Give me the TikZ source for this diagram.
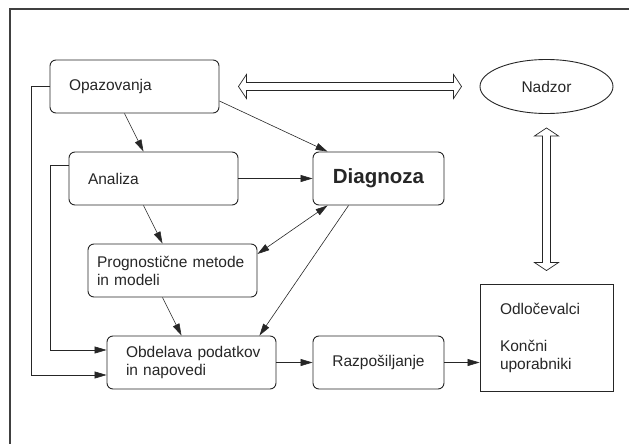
\documentclass[tikz,border=0pt]{standalone}
\usepackage{fontspec}
\setmainfont{Liberation Sans}
\usepackage{tikz}
\usetikzlibrary{arrows.meta,calc,positioning,shapes.geometric}
\tikzstyle{box}=[draw, rounded corners=6pt, line width=0.9pt, minimum width=169pt, minimum height=53pt, text width=131pt, inner xsep=19pt, inner ysep=0pt, align=left, font=\fontsize{15.5}{18}\selectfont]
\tikzstyle{widebox}=[box, text width=151pt, inner xsep=9pt]
\tikzstyle{shortbox}=[draw, rounded corners=6pt, line width=0.9pt, minimum width=131pt, minimum height=53pt, font=\fontsize{15.5}{18}\selectfont]
\tikzstyle{users}=[draw, line width=0.9pt, minimum width=133pt, minimum height=107pt, text width=93pt, inner xsep=20pt, align=left, font=\fontsize{15.5}{18}\selectfont]
\tikzstyle{oversight}=[draw, ellipse, line width=0.9pt, minimum width=133pt, minimum height=54pt, inner sep=0pt, font=\fontsize{15.5}{18}\selectfont]
\tikzset{%
    flow/.style={->, line width=0.6pt},
    hollow/.style={draw, line width=0.7pt, fill=white, line join=miter},
  }

\begin{document}
\begin{tikzpicture}[node distance=92pt, color=black!85, >={Triangle[length=12pt,width=7pt]}]
    \useasboundingbox (0,0) rectangle (629pt,-444pt);
    \draw [line width=1.6pt, black!75] (629pt,-9pt) -- (10pt,-9pt) -- (10pt,-444pt);
    %
    \node (opaz) [box] at (134.5pt,-86.5pt) {Opazovanja};
    \node (anal) [box, below of=opaz, xshift=19pt] {Analiza};
    \node (prog) [widebox, below of=anal, xshift=19pt] {Prognostične metode\\in modeli};
    \node (obde) [box, below of=prog, xshift=19pt] {\mbox{Obdelava podatkov}\\in napovedi};
    \node (diag) [shortbox, right of=anal, node distance=225pt, font=\fontsize{20.5}{24}\selectfont\bfseries] {Diagnoza};
    \node (razp) [shortbox, right of=obde, node distance=187pt] {Razpošiljanje};
    \node (nadz) [oversight, right of=opaz, node distance=412pt] {Nadzor};
    \node (odlo) [users, below of=nadz, node distance=251pt] {Odločevalci\\[19pt]Končni\\uporabniki};
    %
    \coordinate (hl) at ([xshift=19pt]opaz.east);
    \coordinate (hr) at ([xshift=-18pt]nadz.west);
    \draw [hollow] (hl) -- ++(8pt,12pt) -- ++(0,-8pt) -- ($(hr)+(-8pt,4pt)$) -- ++(0,8pt) -- (hr)
      -- ++(-8pt,-12pt) -- ++(0,8pt) -- ($(hl)+(8pt,-4pt)$) -- ++(0,-8pt) -- cycle;
    \coordinate (vt) at ([yshift=-14pt]nadz.south);
    \coordinate (vb) at ([yshift=13pt]odlo.north);
    \draw [hollow] (vt) -- ++(12pt,-8pt) -- ++(-8pt,0) -- ($(vb)+(4pt,8pt)$) -- ++(8pt,0) -- (vb)
      -- ++(-12pt,8pt) -- ++(8pt,0) -- ($(vt)+(-4pt,-8pt)$) -- ++(-8pt,0) -- cycle;
    %
    \draw [flow] (opaz.west) -- ++(-18pt,0) |- ([yshift=-12.5pt]obde.west);
    \draw [flow] ([yshift=13pt]anal.west) -- ++(-18pt,0) |- ([yshift=12.5pt]obde.west);
    \draw [flow] ([xshift=-10pt]opaz.south) -- ([xshift=-10pt]anal.north);
    \draw [flow] ([xshift=-10pt]anal.south) -- ([xshift=-10pt]prog.north);
    \draw [flow] ([xshift=-10pt]prog.south) -- ([xshift=-10pt]obde.north);
    \draw [flow] ([yshift=-14.5pt]opaz.east) -- ([xshift=15pt]diag.north west);
    \draw [flow] (anal.east) -- (diag.west);
    \draw [flow, <->] ([xshift=15pt]diag.south west) -- ([yshift=16.5pt]prog.east);
    \draw [flow] ([xshift=36pt]diag.south west) -- ([xshift=-17pt]obde.north east);
    \draw [flow] (obde.east) -- (razp.west);
    \draw [flow] (razp.east) -- (razp.east -| odlo.west);
  \end{tikzpicture}
\end{document}
